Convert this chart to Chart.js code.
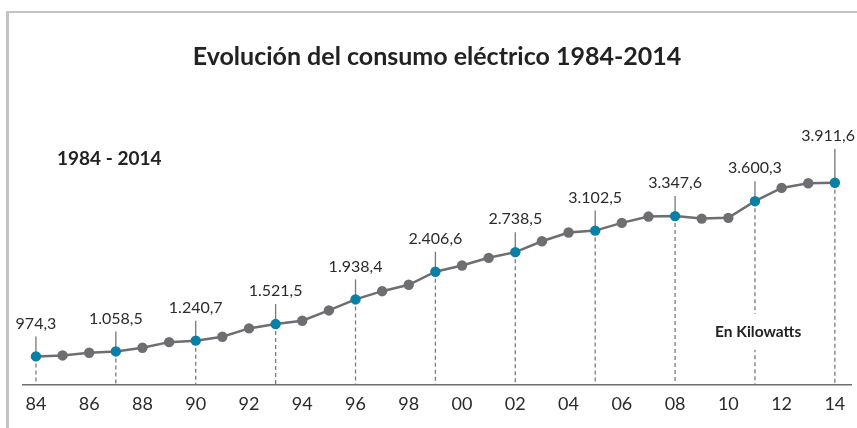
<!DOCTYPE html>
<html>
<head>
  <meta charset="utf-8">
  <title>Evolución del consumo eléctrico 1984-2014</title>
  <script src="https://cdn.jsdelivr.net/npm/chart.js"></script>
  <style>
    body { margin: 0; background: #fff; }
    canvas { display: block; }
  </style>
</head>
<body>
  <canvas id="chart" width="857" height="428"></canvas>

  <script>
    // datos (kilowatts)
    const anios = [1984, 1985, 1986, 1987, 1988, 1989, 1990, 1991, 1992, 1993, 1994,
                   1995, 1996, 1997, 1998, 1999, 2000, 2001, 2002, 2003, 2004,
                   2005, 2006, 2007, 2008, 2009, 2010, 2011, 2012, 2013, 2014];
    const consumo = [974.3, 991, 1037, 1058.5, 1121, 1216, 1240.7, 1307, 1448, 1521.5, 1578,
                     1752, 1938.4, 2078, 2186, 2406.6, 2512, 2642, 2738.5, 2923, 3070,
                     3102.5, 3234, 3340, 3347.6, 3306, 3318, 3600.3, 3825, 3903, 3911.6];
    const destacados = [1984, 1987, 1990, 1993, 1996, 1999, 2002, 2005, 2008, 2011, 2014];
    const ticksAnios = [1984, 1986, 1988, 1990, 1992, 1994, 1996, 1998, 2000, 2002, 2004,
                        2006, 2008, 2010, 2012, 2014];

    const titulo = "Evolución del consumo eléctrico 1984-2014";
    const subtitulo = "1984 - 2014";
    const unidad = "En Kilowatts";

    const GRIS = "#6d6e71";
    const AZUL = "#0a80a6";
    const TEXTO = "#2b2b2b";

    function formato(v) {
      const partes = v.toFixed(1).split(".");
      const entero = partes[0].replace(/\B(?=(\d{3})+(?!\d))/g, ".");
      return entero + "," + partes[1];
    }

    const esDestacado = anios.map(a => destacados.includes(a));

    const anotaciones = {
      id: "anotaciones",
      beforeDatasetsDraw(chart) {
        const ctx = chart.ctx;
        const meta = chart.getDatasetMeta(0);
        const fondo = chart.chartArea.bottom;
        ctx.save();
        meta.data.forEach((p, i) => {
          if (!esDestacado[i]) return;
          // linea punteada hasta el eje
          ctx.strokeStyle = "#7a7a7a";
          ctx.lineWidth = 1.3;
          ctx.setLineDash([4, 3]);
          ctx.beginPath();
          ctx.moveTo(p.x, p.y);
          ctx.lineTo(p.x, fondo);
          ctx.stroke();
          // linea hacia la etiqueta
          const largo = i === anios.length - 1 ? 34 : 20;
          ctx.setLineDash([]);
          ctx.strokeStyle = "#777";
          ctx.lineWidth = 1.3;
          ctx.beginPath();
          ctx.moveTo(p.x, p.y);
          ctx.lineTo(p.x, p.y - largo);
          ctx.stroke();
        });
        ctx.restore();
      },
      afterDraw(chart) {
        const ctx = chart.ctx;
        const meta = chart.getDatasetMeta(0);
        ctx.save();
        // marco
        ctx.fillStyle = "#c4c4c4";
        ctx.fillRect(6, 11, 851, 2);
        ctx.fillRect(6, 11, 3, 417);

        // etiquetas de valores
        ctx.fillStyle = TEXTO;
        ctx.font = "16px Lato";
        ctx.textBaseline = "middle";
        meta.data.forEach((p, i) => {
          if (!esDestacado[i]) return;
          const ultimo = i === anios.length - 1;
          const largo = ultimo ? 34 : 20;
          ctx.textAlign = ultimo ? "right" : "center";
          ctx.fillText(formato(consumo[i]), ultimo ? 855 : p.x, p.y - largo - 13);
        });

        // titulo
        ctx.textAlign = "center";
        ctx.font = "bold 25px Lato";
        ctx.fillStyle = "#222";
        ctx.fillText(titulo, 437, 57);

        // subtitulo
        ctx.font = "bold 19px Lato";
        ctx.textAlign = "left";
        ctx.fillText(subtitulo, 57, 159);

        // unidad
        ctx.font = "bold 15.5px Lato";
        const w = ctx.measureText(unidad).width;
        ctx.fillStyle = "#fff";
        ctx.fillRect(711, 314, w + 8, 36);
        ctx.fillStyle = "#222";
        ctx.fillText(unidad, 715, 332);
        ctx.restore();
      }
    };

    const ctx = document.getElementById("chart").getContext("2d");
    const chart = new Chart(ctx, {
      type: "line",
      data: {
        datasets: [{
          label: "Consumo",
          data: anios.map((a, i) => ({ x: a, y: consumo[i] })),
          borderColor: GRIS,
          borderWidth: 2.5,
          pointRadius: 5.2,
          pointHoverRadius: 5.2,
          pointBorderWidth: 0,
          pointBackgroundColor: esDestacado.map(d => d ? AZUL : GRIS),
          tension: 0
        }]
      },
      options: {
        responsive: false,
        animation: false,
        layout: { padding: { left: 23, right: 2, top: 100, bottom: 4 } },
        plugins: {
          legend: { display: false },
          title: { display: false },
          tooltip: { enabled: false }
        },
        scales: {
          x: {
            type: "linear",
            min: 1983.514,
            max: 2014.636,
            grid: { display: false, drawTicks: false },
            border: { display: true, color: "#6d6e71", width: 1.5 },
            afterBuildTicks: s => { s.ticks = ticksAnios.map(v => ({ value: v })); },
            ticks: {
              padding: 9,
              color: TEXTO,
              font: { family: "Lato", size: 18 },
              maxRotation: 0,
              autoSkip: false,
              callback: v => String(v).slice(2)
            }
          },
          y: {
            display: false,
            min: 501,
            max: 5312
          }
        }
      },
      plugins: [anotaciones]
    });
  </script>
</body>
</html>
